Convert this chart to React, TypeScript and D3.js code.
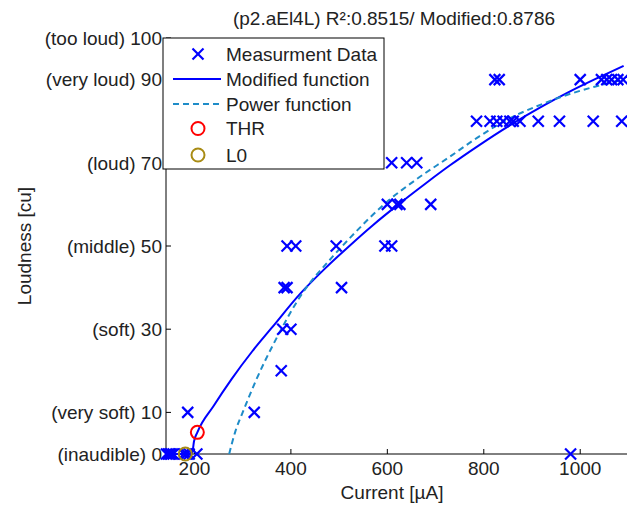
import React from "react";
import * as d3 from "d3";

const measCurrent = [142, 146, 149, 152, 156, 178, 183, 189, 205, 980, 186, 324, 380, 383, 400, 386, 392, 505, 392, 410, 494, 595, 609, 600, 620, 626, 690, 609, 640, 661, 785, 813, 827, 840, 854, 861, 875, 913, 957, 1027, 1086, 823, 832, 1000, 1044, 1055, 1065, 1078, 1089];
const measLoudness = [0, 0, 0, 0, 0, 0, 0, 0, 0, 0, 10, 10, 20, 30, 30, 40, 40, 40, 50, 50, 50, 50, 50, 60, 60, 60, 60, 70, 70, 70, 80, 80, 80, 80, 80, 80, 80, 80, 80, 80, 80, 90, 90, 90, 90, 90, 90, 90, 90];

const modCurrent = [141, 195, 199, 206, 240, 277, 320, 360, 419, 470, 523, 570, 623, 680, 730, 790, 854, 920, 978, 1040, 1090];
const modLoudness = [0, 0, 3, 5.2, 11.6, 18, 24.7, 30.3, 38.5, 44.5, 50.2, 55, 60, 65.1, 69.4, 74.2, 79, 83.5, 87.1, 90.6, 93.3];

const powCurrent = [272, 285, 300, 328, 370, 419, 487, 523, 599, 660, 730, 790, 854, 910, 972, 1030, 1089];
const powLoudness = [0, 5.5, 10, 17.8, 27.8, 37.8, 47.5, 52, 60.6, 66, 71.5, 76.3, 80.7, 83.6, 86.3, 88.3, 90];

const thrPoint = [206, 5.2];
const l0Point = [181, 0];

const xTicks = [200, 400, 600, 800, 1000];
const yTicks = [0, 10, 30, 50, 70, 90, 100];
const yTickLabels = ["(inaudible) 0", "(very soft) 10", "(soft) 30", "(middle) 50", "(loud) 70", "(very loud) 90", "(too loud) 100"];

const titleText = "(p2.aEl4L) R\u00B2:0.8515/ Modified:0.8786";
const legendLabels = ["Measurment Data", "Modified function", "Power function", "THR", "L0"];

const FONT = "'Liberation Sans', Arial, sans-serif";
const FS = 19;
const BLUE = "#0000FF";
const DASH = "#1E8CC8";
const RED = "#FF0000";
const GOLD = "#A88B14";
const TXT = "#222222";

export default function App() {
  const x = d3.scaleLinear().domain([141, 1097]).range([166, 627]);
  const y = d3.scaleLinear().domain([0, 100]).range([454, 38]);

  const line = d3
    .line<[number, number]>()
    .x((d) => x(d[0]))
    .y((d) => y(d[1]))
    .curve(d3.curveMonotoneX);

  const modPath = line(modCurrent.map((c, i) => [c, modLoudness[i]] as [number, number])) || "";
  const powPath = line(powCurrent.map((c, i) => [c, powLoudness[i]] as [number, number])) || "";

  const cross = (cx: number, cy: number, k: string) => (
    <g key={k} stroke={BLUE} strokeWidth={2.2}>
      <line x1={cx - 5.5} y1={cy - 5.5} x2={cx + 5.5} y2={cy + 5.5} />
      <line x1={cx - 5.5} y1={cy + 5.5} x2={cx + 5.5} y2={cy - 5.5} />
    </g>
  );

  const legRows = [54, 79, 104, 128.5, 155];
  const legX0 = 163;
  const legY0 = 38;
  const legW = 221;
  const legH = 131;

  return (
    <svg
      width={627}
      height={506}
      style={{ position: "absolute", left: 0, top: 0, background: "#fff" }}
      fontFamily={FONT}
    >
      <rect x={0} y={0} width={627} height={506} fill="#fff" />
      <text x={394} y={25} textAnchor="middle" fontSize={FS} fill={TXT}>
        {titleText}
      </text>

      <line x1={166} y1={38} x2={166} y2={454} stroke="#000" strokeWidth={1} />
      <line x1={166} y1={454} x2={627} y2={454} stroke="#000" strokeWidth={1} />
      {xTicks.map((t) => (
        <g key={"xt" + t}>
          <line x1={x(t)} y1={454} x2={x(t)} y2={449} stroke="#000" />
          <text x={x(t)} y={475} textAnchor="middle" fontSize={FS} fill={TXT}>
            {t}
          </text>
        </g>
      ))}
      {yTicks.map((t, i) => (
        <g key={"yt" + t}>
          <line x1={166} y1={y(t)} x2={171} y2={y(t)} stroke="#000" />
          <text x={162} y={y(t)} dy="0.36em" textAnchor="end" fontSize={FS} fill={TXT}>
            {yTickLabels[i]}
          </text>
        </g>
      ))}
      <text x={392} y={499} textAnchor="middle" fontSize={FS} fill={TXT}>
        Current [µA]
      </text>
      <text
        transform={`translate(24,${y(50)}) rotate(-90)`}
        textAnchor="middle"
        dy="0.36em"
        fontSize={FS}
        fill={TXT}
      >
        Loudness [cu]
      </text>

      <path d={modPath} fill="none" stroke={BLUE} strokeWidth={2} />
      <path d={powPath} fill="none" stroke={DASH} strokeWidth={2} strokeDasharray="6,4" />

      {measCurrent.map((c, i) => cross(x(c), y(measLoudness[i]), "m" + i))}

      <circle cx={x(thrPoint[0])} cy={y(thrPoint[1])} r={6.5} fill="none" stroke={RED} strokeWidth={2} />
      <circle cx={x(l0Point[0])} cy={y(l0Point[1])} r={6.5} fill="none" stroke={GOLD} strokeWidth={2} />

      <rect x={legX0} y={legY0} width={legW} height={legH} fill="#fff" stroke="#000" strokeWidth={1} />
      {cross(198, legRows[0], "lg0")}
      <line x1={173} y1={legRows[1]} x2={221} y2={legRows[1]} stroke={BLUE} strokeWidth={2} />
      <line x1={173} y1={legRows[2]} x2={221} y2={legRows[2]} stroke={DASH} strokeWidth={2} strokeDasharray="6,4" />
      <circle cx={198} cy={legRows[3]} r={6.5} fill="none" stroke={RED} strokeWidth={2} />
      <circle cx={198} cy={legRows[4]} r={6.5} fill="none" stroke={GOLD} strokeWidth={2} />
      {legendLabels.map((l, i) => (
        <text key={"ll" + i} x={226} y={legRows[i]} dy="0.36em" fontSize={FS} fill={TXT}>
          {l}
        </text>
      ))}
    </svg>
  );
}
